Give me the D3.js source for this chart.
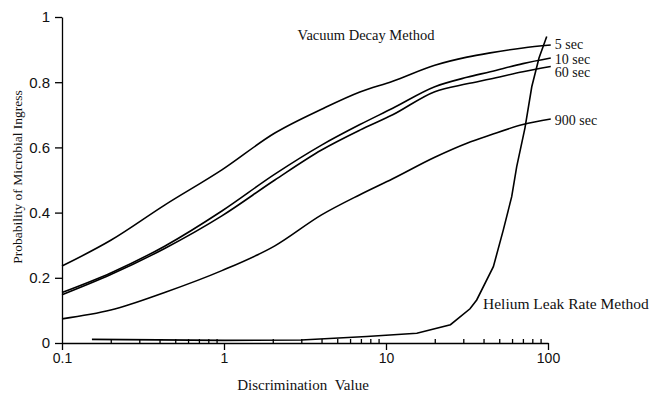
<!DOCTYPE html>
<html>
<head>
<meta charset="utf-8">
<script src="https://cdn.jsdelivr.net/npm/d3@7"></script>
<style>
  body { margin: 0; background: #fff; }
  .curve { fill: none; stroke: #000; stroke-width: 1.6; }
  .axis path, .axis line { stroke: #000; stroke-width: 1.3; }
  .serif { font-family: 'Liberation Serif', 'DejaVu Serif', serif; font-size: 14px; fill: #111; }
</style>
</head>
<body>
<svg id="chart" width="649" height="396"></svg>
<script>
// Vacuum decay curves share the same discrimination values
var discValues = [0.1, 0.2, 0.43, 0.97, 2.06, 4, 6.9, 11, 20, 31.6, 44, 70, 104]
var p5sec = [0.236, 0.315, 0.423, 0.531, 0.644, 0.717, 0.77, 0.803, 0.852, 0.877, 0.89, 0.905, 0.914]
var p10sec = [0.155, 0.215, 0.297, 0.405, 0.518, 0.607, 0.67, 0.72, 0.786, 0.815, 0.832, 0.857, 0.874]
var p60sec = [0.148, 0.21, 0.29, 0.39, 0.5, 0.592, 0.653, 0.70, 0.771, 0.795, 0.81, 0.832, 0.848]
var p900sec = [0.074, 0.101, 0.155, 0.222, 0.298, 0.393, 0.455, 0.504, 0.57, 0.613, 0.638, 0.67, 0.687]

// Helium leak rate method
var heliumValues = [0.153, 1, 3, 7.6, 15.5, 25, 33, 36.3, 46, 53, 59.7, 64.1, 72.1, 79.4, 88, 98.2]
var pHelium = [0.011, 0.008, 0.009, 0.02, 0.03, 0.056, 0.105, 0.132, 0.234, 0.347, 0.449, 0.541, 0.66, 0.786, 0.874, 0.94]

var xMajorTicks = [0.1, 1, 10, 100]
var xMinorTicks = [0.2, 0.3, 0.4, 0.5, 0.6, 0.7, 0.8, 0.9, 2, 3, 4, 5, 6, 7, 8, 9,
  20, 30, 40, 50, 60, 70, 80, 90]
var yTicks = [0, 0.2, 0.4, 0.6, 0.8, 1]

var seriesList = [
  { name: '5 sec', values: p5sec, dy: -1 },
  { name: '10 sec', values: p10sec, dy: 1 },
  { name: '60 sec', values: p60sec, dy: 6 },
  { name: '900 sec', values: p900sec, dy: 1 }
]

var svg = d3.select('#chart')
var x = d3.scaleLog().domain([0.1, 100]).range([62, 548])
var y = d3.scaleLinear().domain([0, 1]).range([343, 17])

// Axes
svg.append('g')
  .attr('class', 'axis')
  .attr('transform', 'translate(0,343)')
  .call(d3.axisBottom(x).tickValues(xMajorTicks).tickSize(7).tickSizeOuter(0)
    .tickFormat(function(d) { return d < 1 ? d3.format('.1f')(d) : d3.format('d')(d) }))
  .call(function(g) {
    g.selectAll('text').attr('font-family', 'Liberation Sans, Arial, sans-serif')
      .attr('font-size', 14).attr('fill', '#111')
  })

svg.append('g')
  .attr('class', 'axis')
  .attr('transform', 'translate(0,343)')
  .call(d3.axisTop(x).tickValues(xMinorTicks).tickSize(4).tickFormat(''))
  .call(function(g) { g.select('.domain').remove() })

svg.append('g')
  .attr('class', 'axis')
  .attr('transform', 'translate(62,0)')
  .call(d3.axisLeft(y).tickValues(yTicks).tickSize(7).tickSizeOuter(0).tickPadding(5)
    .tickFormat(function(d) { return d === 0 || d === 1 ? d : d3.format('.1f')(d) }))
  .call(function(g) {
    g.selectAll('text').attr('font-family', 'Liberation Sans, Arial, sans-serif')
      .attr('font-size', 15).attr('fill', '#111')
  })

// Curves
var line = d3.line()
  .x(function(d) { return x(d[0]) })
  .y(function(d) { return y(d[1]) })
  .curve(d3.curveMonotoneX)

seriesList.forEach(function(s) {
  var points = d3.zip(discValues, s.values)
  svg.append('path')
    .attr('class', 'curve')
    .attr('d', line(points))

  var last = points[points.length - 1]
  svg.append('text')
    .attr('class', 'serif')
    .attr('x', x(last[0]) + 4)
    .attr('y', y(last[1]) + s.dy)
    .attr('dy', '0.35em')
    .text(s.name)
})

svg.append('path')
  .attr('class', 'curve')
  .attr('d', line.curve(d3.curveLinear)(d3.zip(heliumValues, pHelium)))

// Annotations
svg.append('text').attr('class', 'serif')
  .attr('x', 366).attr('y', 35).attr('dy', '0.35em')
  .attr('text-anchor', 'middle')
  .style('font-size', '14.5px')
  .text('Vacuum Decay Method')

svg.append('text').attr('class', 'serif')
  .attr('x', 483).attr('y', 309)
  .style('font-size', '15.5px')
  .text('Helium Leak Rate Method')

svg.append('text').attr('class', 'serif')
  .attr('x', 303).attr('y', 385).attr('dy', '0.35em')
  .attr('text-anchor', 'middle')
  .style('font-size', '15px')
  .style('word-spacing', '4px')
  .text('Discrimination Value')

svg.append('g')
  .attr('transform', 'translate(17 177)')
  .append('text').attr('class', 'serif')
  .attr('transform', 'rotate(-90)')
  .attr('text-anchor', 'middle')
  .attr('dy', '0.35em')
  .style('font-size', '13.5px')
  .text('Probability of Microbial Ingress')
</script>
</body>
</html>
